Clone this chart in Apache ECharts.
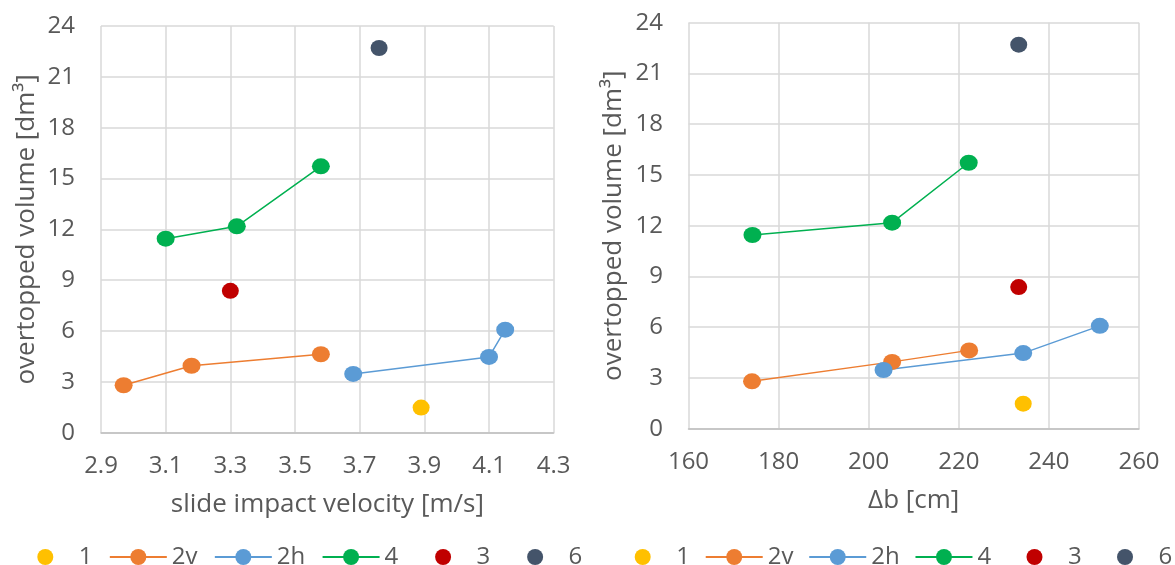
<!DOCTYPE html>
<html>
<head>
<meta charset="utf-8">
<script src="https://cdn.jsdelivr.net/npm/echarts@6/dist/echarts.min.js"></script>
<style>
html,body{margin:0;padding:0;background:#fff;}
#c{width:1175px;height:565px;}
</style>
</head>
<body>
<div id="c"></div>
<script>
// Series names (legend order)
const seriesNames = ['1', '2v', '2h', '4', '3', '6'];
// Overtopped volume [dm3]
const vol1 = [1.48];
const vol2v = [2.8, 3.95, 4.63];
const vol2h = [3.47, 4.47, 6.08];
const vol4 = [11.45, 12.18, 15.72];
const vol3 = [8.37];
const vol6 = [22.7];
// Slide impact velocity [m/s]
const vel1 = [3.89];
const vel2v = [2.97, 3.18, 3.58];
const vel2h = [3.68, 4.10, 4.15];
const vel4 = [3.10, 3.32, 3.58];
const vel3 = [3.30];
const vel6 = [3.76];
// Delta b [cm]
const db1 = [234.3];
const db2v = [174.1, 205.2, 222.3];
const db2h = [203.3, 234.3, 251.3];
const db4 = [174.2, 205.2, 222.2];
const db3 = [233.3];
const db6 = [233.3];

const colors = {'1':'#FFC000','2v':'#ED7D31','2h':'#5B9BD5','4':'#00B050','3':'#C00000','6':'#44546A'};
const lined = {'1':false,'2v':true,'2h':true,'4':true,'3':false,'6':false};
const vols = {'1':vol1,'2v':vol2v,'2h':vol2h,'4':vol4,'3':vol3,'6':vol6};
const vels = {'1':vel1,'2v':vel2v,'2h':vel2h,'4':vel4,'3':vel3,'6':vel6};
const dbs = {'1':db1,'2v':db2v,'2h':db2h,'4':db4,'3':db3,'6':db6};

const FONT = '"Open Sans"';
const TXT = '#595959';
const FS = 24;
const FS_TITLE = 26;

function pairs(xs, ys){ return xs.map((x,i)=>[x, ys[i]]); }

function makeSeries(idx, xsMap){
  return seriesNames.map(n => ({
    name: n,
    type: 'line',
    xAxisIndex: idx, yAxisIndex: idx,
    data: pairs(xsMap[n], vols[n]),
    symbol: 'circle',
    symbolSize: lined[n] ? [18, 16] : [17, 16],
    showSymbol: true,
    showAllSymbol: true,
    itemStyle: {color: colors[n], opacity: 1},
    lineStyle: lined[n] ? {color: colors[n], width: 1.5} : {color: colors[n], width: 0, opacity: 0},
    emphasis: {disabled: true},
    animation: false,
    z: lined[n] ? 3 : 4
  }));
}

function xAxis(idx, min, max, interval, name, dec){
  return {
    type: 'value', gridIndex: idx, min: min, max: max, interval: interval,
    name: name, nameLocation: 'middle', nameGap: 58.5,
    nameTextStyle: {color: TXT, fontSize: FS_TITLE, fontFamily: FONT},
    axisLine: {show: true, lineStyle: {color: '#BFBFBF', width: 1.5}},
    axisTick: {show: false},
    axisLabel: {color: TXT, fontSize: FS, fontFamily: FONT, margin: 21,
      formatter: v => v.toFixed(dec)},
    splitLine: {show: true, lineStyle: {color: '#D9D9D9', width: 1.5}}
  };
}
function yAxis(idx, gap, margin){
  return {
    type: 'value', gridIndex: idx, min: 0, max: 24, interval: 3,
    name: 'overtopped volume [dm³]', nameLocation: 'middle', nameGap: gap,
    nameRotate: 90,
    nameTextStyle: {color: TXT, fontSize: FS_TITLE, fontFamily: FONT},
    axisLine: {show: false},
    axisTick: {show: false},
    axisLabel: {color: TXT, fontSize: FS, fontFamily: FONT, margin: margin},
    splitLine: {show: true, lineStyle: {color: '#D9D9D9', width: 1.5}}
  };
}
function legend(left, gap){
  return {
    left: left, top: 545, itemWidth: 57, itemHeight: 20, itemGap: gap,
    padding: 0,
    data: seriesNames, selectedMode: false,
    textStyle: {color: TXT, fontSize: FS, fontFamily: FONT}
  };
}

const chart = echarts.init(document.getElementById('c'), null, {renderer: 'canvas'});
chart.setOption({
  animation: false,
  backgroundColor: '#ffffff',
  grid: [
    {left: 101, width: 452.7, top: 26, height: 406.7, outerBoundsMode: 'none'},
    {left: 688.5, width: 450.5, top: 22.7, height: 406, outerBoundsMode: 'none'}
  ],
  xAxis: [
    xAxis(0, 2.9, 4.3, 0.2, 'slide impact velocity [m/s]', 1),
    xAxis(1, 160, 260, 20, 'Δb [cm]', 0)
  ],
  yAxis: [yAxis(0, 61, 26), yAxis(1, 62, 25.5)],
  legend: [legend(16.8, 16.3), legend(614.2, 14.8)],
  series: makeSeries(0, vels).concat(makeSeries(1, dbs))
});
</script>
</body>
</html>
